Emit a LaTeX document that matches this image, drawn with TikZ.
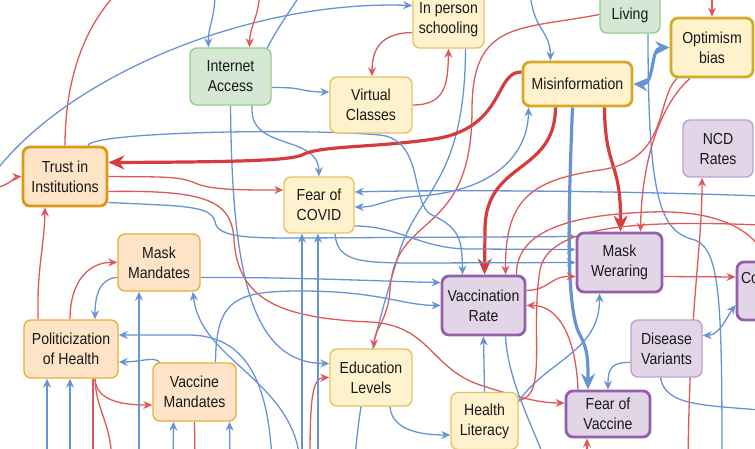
\documentclass[tikz,border=0pt]{standalone}
\usepackage{fontspec}
\setmainfont{Liberation Sans}[FakeStretch=0.88]
\usetikzlibrary{arrows.meta}
\pgfdeclarelayer{bg}
\pgfsetlayers{bg,main}
\definecolor{yfill}{RGB}{255,242,204}
\definecolor{ybord}{RGB}{228,196,100}
\definecolor{ybordT}{RGB}{214,170,40}
\definecolor{gfill}{RGB}{213,232,212}
\definecolor{gbord}{RGB}{150,205,140}
\definecolor{ofill}{RGB}{255,228,200}
\definecolor{obord}{RGB}{235,175,60}
\definecolor{obordT}{RGB}{225,150,20}
\definecolor{pfill}{RGB}{225,213,231}
\definecolor{pbord}{RGB}{190,160,210}
\definecolor{pbordT}{RGB}{150,95,170}
\definecolor{cblue}{RGB}{104,148,214}
\definecolor{cred}{RGB}{222,90,90}
\definecolor{cred2}{RGB}{214,60,60}
\tikzset{
 nbase/.style={rounded corners=7pt, align=center, font=\fontsize{16}{20}\selectfont, text=black!90, inner sep=1pt, line width=1.4pt},
 ybox/.style={nbase, fill=yfill, draw=ybord},
 yboxT/.style={nbase, fill=yfill, draw=ybordT, line width=2.8pt},
 gbox/.style={nbase, fill=gfill, draw=gbord},
 obox/.style={nbase, fill=ofill, draw=obord},
 oboxT/.style={nbase, fill=ofill, draw=obordT, line width=2.8pt},
 pbox/.style={nbase, fill=pfill, draw=pbord},
 pboxT/.style={nbase, fill=pfill, draw=pbordT, line width=2.8pt},
 bl/.style={draw=cblue, line width=1.3pt},
 rl/.style={draw=cred, line width=1.3pt},
 BL/.style={draw=cblue, line width=3.2pt},
 RL/.style={draw=cred2, line width=3.2pt},
 ar/.style={-{Stealth[length=9pt,width=8pt]}},
 ar2/.style={{Stealth[length=9pt,width=8pt]}-{Stealth[length=9pt,width=8pt]}},
 bigar/.style={-{Stealth[length=16pt,width=14pt]}},
 bigar2/.style={{Stealth[length=14pt,width=13pt]}-{Stealth[length=14pt,width=13pt]}},
}
\begin{document}
\begin{tikzpicture}[x=1pt,y=-1pt]
\useasboundingbox (0,0) rectangle (755,449);
% nodes
\node[gbox, minimum width=81pt, minimum height=57pt] (ia) at (230.5,76.5) {Internet\\Access};
\node[ybox, minimum width=82pt, minimum height=56pt] (vc) at (371,105) {Virtual\\Classes};
\node[ybox, minimum width=71pt, minimum height=57pt] (ips) at (448.5,19.5) {In person\\schooling};
\node[gbox, minimum width=60pt, minimum height=57pt] (liv) at (630,4.5) {\strut\\Living};
\node[yboxT, minimum width=82pt, minimum height=59pt] (opt) at (712,47.5) {Optimism\\bias};
\node[yboxT, minimum width=109pt, minimum height=44pt] (mis) at (577.5,84) {Misinformation};
\node[pbox, minimum width=70pt, minimum height=57pt] (ncd) at (718,148.5) {NCD\\Rates};
\node[oboxT, minimum width=84pt, minimum height=59pt] (tru) at (65,176.5) {Trust in\\Institutions};
\node[ybox, minimum width=70pt, minimum height=56pt] (fc) at (319,205) {Fear of\\COVID};
\node[obox, minimum width=82pt, minimum height=57pt] (mm) at (159,262.5) {Mask\\Mandates};
\node[obox, minimum width=94pt, minimum height=58pt] (poh) at (71,349) {Politicization\\of Health};
\node[obox, minimum width=83pt, minimum height=58pt] (vm) at (194.5,392) {Vaccine\\Mandates};
\node[ybox, minimum width=82pt, minimum height=57pt] (el) at (371,377.5) {Education\\Levels};
\node[pboxT, minimum width=83pt, minimum height=59pt] (vr) at (483.5,305.5) {Vaccination\\Rate};
\node[pboxT, minimum width=85pt, minimum height=59pt] (mw) at (619.5,262.5) {Mask\\Weraring};
\node[pbox, minimum width=71pt, minimum height=57pt] (dv) at (666.5,348.5) {Disease\\Variants};
\node[ybox, minimum width=67pt, minimum height=57pt] (hl) at (484.5,421) {Health\\Literacy};
\node[pboxT, minimum width=84pt, minimum height=46pt] (fv) at (608,414) {Fear of\\Vaccine};
\node[pboxT, minimum width=86pt, minimum height=58pt, align=left, text width=78pt] (co) at (780,291) {Co\\\strut};
% free ends
\coordinate (f1) at (118,-8);
\coordinate (f2a) at (-5,172);
\coordinate (f3) at (-5,188);
\coordinate (f4) at (215,-8);
\coordinate (f5) at (260,-8);
\coordinate (f6) at (302,-8);
\coordinate (f11) at (355,460);
\coordinate (f12) at (530,-8);
\coordinate (f15) at (760,196);
\coordinate (f21) at (722,460);
\coordinate (f22) at (712,-8);
\coordinate (f25) at (688,460);
\coordinate (f36) at (272,460);
\coordinate (f39) at (47,460);
\coordinate (f40) at (70,460);
\coordinate (f41) at (93,460);
\coordinate (f41b) at (112,460);
\coordinate (f42) at (139,460);
\coordinate (f43) at (300,460);
\coordinate (f45) at (173,460);
\coordinate (f46) at (230,460);
\coordinate (f47) at (195,460);
\coordinate (f48) at (310,460);
\coordinate (f53) at (500,460);
\coordinate (f57) at (760,410);
\coordinate (f58) at (587,460);
\coordinate (f59) at (545,460);
\coordinate (f60) at (760,225);
\coordinate (f61) at (762,250);
\coordinate (f62) at (302,460);
\coordinate (f63) at (318,460);
\begin{pgfonlayer}{bg}
\fill[white] (0,0) rectangle (755,449);
\draw[rl] (tru.north) .. controls (65,70) and (90,20) .. (f1);
\draw[bl,ar] (f2a) .. controls (70,75) and (250,0) .. ([yshift=14pt]ips.west);
\draw[rl,ar] (f3) .. controls (10,185) and (15,177) .. (tru.west);
\draw[bl,ar] (f4) .. controls (215,20) and (208,25) .. ([xshift=-22pt]ia.north);
\draw[rl,ar] (f5) .. controls (258,20) and (250,25) .. ([xshift=19pt]ia.north);
\draw[bl,ar] (f6) .. controls (278,30) and (252,60) .. (252,110) .. controls (252,150) and (318,135) .. (fc.north);
\draw[bl,ar] ([yshift=-11pt]ia.east) .. controls (305,87) and (300,92) .. ([yshift=13pt]vc.west);
\draw[bl,ar] (ia.south) .. controls (232,270) and (250,363) .. ([yshift=14pt]el.west);
\draw[rl,ar] ([yshift=-13pt]ips.west) .. controls (385,33) and (372,45) .. ([xshift=1pt]vc.north);
\draw[rl,ar] (vc.east) .. controls (445,105) and (448,85) .. (ips.south);
\draw[bl] ([xshift=17pt]ips.south) .. controls (465,180) and (420,190) .. (400,250) .. controls (385,300) and (360,380) .. (f11);
\draw[bl,ar] (f12) .. controls (533,30) and (550,30) .. ([xshift=-27pt]mis.north);
\draw[rl,ar] ([yshift=-10pt]liv.west) .. controls (520,30) and (472,20) .. (472,110) .. controls (472,240) and (395,210) .. (390,290) .. controls (388,320) and (374,330) .. ([xshift=3pt]el.north);
\draw[RL,bigar] ([yshift=12pt]mis.west) .. controls (495,71) and (505,125) .. (440,138) .. controls (380,148) and (320,145) .. (302,155) .. controls (290,160) and (250,162) .. ([yshift=14pt]tru.east);
\draw[bl,ar] (f15) .. controls (600,190) and (420,190) .. ([yshift=13pt]fc.east);
\draw[bl,ar2] ([yshift=-2pt]fc.east) .. controls (380,207) and (385,198) .. (420,196) .. controls (500,190) and (528,150) .. ([xshift=-49pt]mis.south);
\draw[RL,bigar] ([xshift=-22pt]mis.south) .. controls (555,175) and (485,160) .. (485,230) -- ([xshift=1pt]vr.north);
\draw[BL,bigar] ([xshift=-5pt]mis.south) .. controls (568,220) and (566,310) .. (580,335) .. controls (588,350) and (588,360) .. ([xshift=-20pt]fv.north);
\draw[RL,bigar] ([xshift=27pt]mis.south) .. controls (605,170) and (621,160) .. ([xshift=1pt]mw.north);
\draw[BL,bigar2] (mis.east) .. controls (655,85) and (650,48) .. (opt.west);
\draw[bl] ([xshift=18pt]liv.south) .. controls (648,200) and (660,232) .. (695,240) .. controls (720,250) and (722,300) .. (f21);
\draw[rl,ar] (f22) -- (opt.north);
\draw[rl,ar] ([xshift=-35pt]opt.south) .. controls (655,100) and (670,160) .. (600,170) .. controls (530,180) and (505,200) .. ([xshift=22pt]vr.north);
\draw[rl,ar] ([xshift=-22pt]opt.south) .. controls (665,100) and (642,150) .. ([xshift=21pt]mw.north);
\draw[rl,ar] (f25) .. controls (690,300) and (702,250) .. ([xshift=-16pt]ncd.south);
\draw[bl,ar] ([xshift=23pt]tru.north) .. controls (90,132) and (300,128) .. (380,135) .. controls (425,140) and (410,205) .. (432,215) .. controls (460,228) and (462,240) .. ([xshift=-21pt]vr.north);
\draw[rl,ar] (tru.east) .. controls (160,177) and (180,176) .. (195,183) .. controls (210,190) and (240,190) .. ([yshift=15pt]fc.west);
\draw[rl,ar] ([yshift=-15pt]tru.east) .. controls (205,190) and (232,200) .. (234,240) .. controls (238,300) and (280,318) .. (370,322) .. controls (430,325) and (430,368) .. (480,385) .. controls (520,398) and (540,403) .. ([yshift=11pt]fv.west);
\draw[bl,ar] ([yshift=-26pt]tru.east) .. controls (180,206) and (212,205) .. (215,222) .. controls (218,238) and (250,238) .. (300,238) -- ([yshift=26pt]mw.west);
\draw[bl,ar] ([yshift=-21pt]fc.east) .. controls (400,226) and (420,249) .. (470,249) -- ([yshift=13pt]mw.west);
\draw[bl,ar] ([xshift=16pt]fc.south) .. controls (337,262) and (360,263) .. (420,263) -- (mw.west);
\draw[bl,ar] ([yshift=-15pt]mm.east) .. controls (300,277) and (400,282) .. ([yshift=23pt]vr.west);
\draw[bl,ar] ([yshift=-15pt]mm.west) .. controls (100,278) and (95,295) .. ([xshift=24pt]poh.north);
\draw[rl,ar] ([xshift=-1pt]poh.north) .. controls (70,280) and (90,262) .. (mm.west);
\draw[rl,ar] ([xshift=-33pt]poh.north) .. controls (37,265) and (44,250) .. ([xshift=-20pt]tru.south);
\draw[bl,ar] (f36) .. controls (268,380) and (245,336) .. (190,335) -- ([yshift=14pt]poh.east);
\draw[bl,ar] ([xshift=-35pt]vm.north) .. controls (155,356) and (140,362) .. ([yshift=-13pt]poh.east);
\draw[rl,ar] ([xshift=24pt]poh.south) .. controls (96,400) and (120,405) .. ([yshift=-13pt]vm.west);
\draw[bl,ar] (f39) -- ([xshift=-24pt]poh.south);
\draw[bl,ar] (f40) -- ([xshift=-1pt]poh.south);
\draw[rl] ([xshift=22pt]poh.south) -- (f41);
\draw[rl] ([xshift=24pt]poh.south) .. controls (96,410) and (110,420) .. (f41b);
\draw[bl,ar] (f42) -- ([xshift=-20pt]mm.south);
\draw[bl,ar] (f43) .. controls (292,380) and (200,360) .. ([xshift=34pt]mm.south);
\draw[bl,ar] ([xshift=21pt]vm.north) .. controls (216,300) and (235,291) .. (300,291) .. controls (380,291) and (400,305) .. (vr.west);
\draw[bl,ar] (f45) -- ([xshift=-21pt]vm.south);
\draw[bl,ar] (f46) -- ([xshift=35pt]vm.south);
\draw[rl] (vm.south) -- (f47);
\draw[rl,ar] (f48) .. controls (310,400) and (312,378) .. (el.west);
\draw[bl,ar] ([xshift=19pt]el.south) .. controls (392,430) and (420,435) .. ([yshift=-14pt]hl.west);
\draw[bl,ar] (hl.north) -- (vr.south);
\draw[rl,ar] ([yshift=15pt]vr.east) .. controls (550,290) and (550,276) .. ([yshift=-14pt]mw.west);
\draw[rl,ar] ([xshift=-30pt]fv.north) .. controls (576,340) and (560,305) .. (vr.east);
\draw[bl,ar] (f53) .. controls (505,360) and (600,370) .. ([xshift=-20pt]mw.south);
\draw[rl,ar] ([yshift=-14pt]mw.east) -- ([yshift=14pt]co.west);
\draw[bl,ar2] ([yshift=13pt]dv.east) .. controls (720,335) and (728,315) .. ([yshift=-14pt]co.west);
\draw[bl,ar] ([yshift=-14pt]dv.west) .. controls (612,362) and (608,368) .. (fv.north);
\draw[bl] ([xshift=-6pt]dv.south) .. controls (665,405) and (700,405) .. (f57);
\draw[rl,ar] (f58) -- ([xshift=-21pt]fv.south);
\draw[bl] ([xshift=22pt]vr.south) .. controls (508,380) and (530,420) .. (f59);
\draw[rl] ([yshift=21pt]hl.east) .. controls (548,398) and (530,330) .. (540,270) .. controls (548,225) and (640,220) .. (f60);
\draw[rl] ([xshift=33pt]vr.north) .. controls (516,235) and (560,215) .. (650,212) .. controls (710,210) and (745,225) .. (f61);
\draw[bl,ar] (f62) -- ([xshift=-17pt]fc.south);
\draw[bl,ar] (f63) -- ([xshift=-1pt]fc.south);
\end{pgfonlayer}
\end{tikzpicture}
\end{document}
